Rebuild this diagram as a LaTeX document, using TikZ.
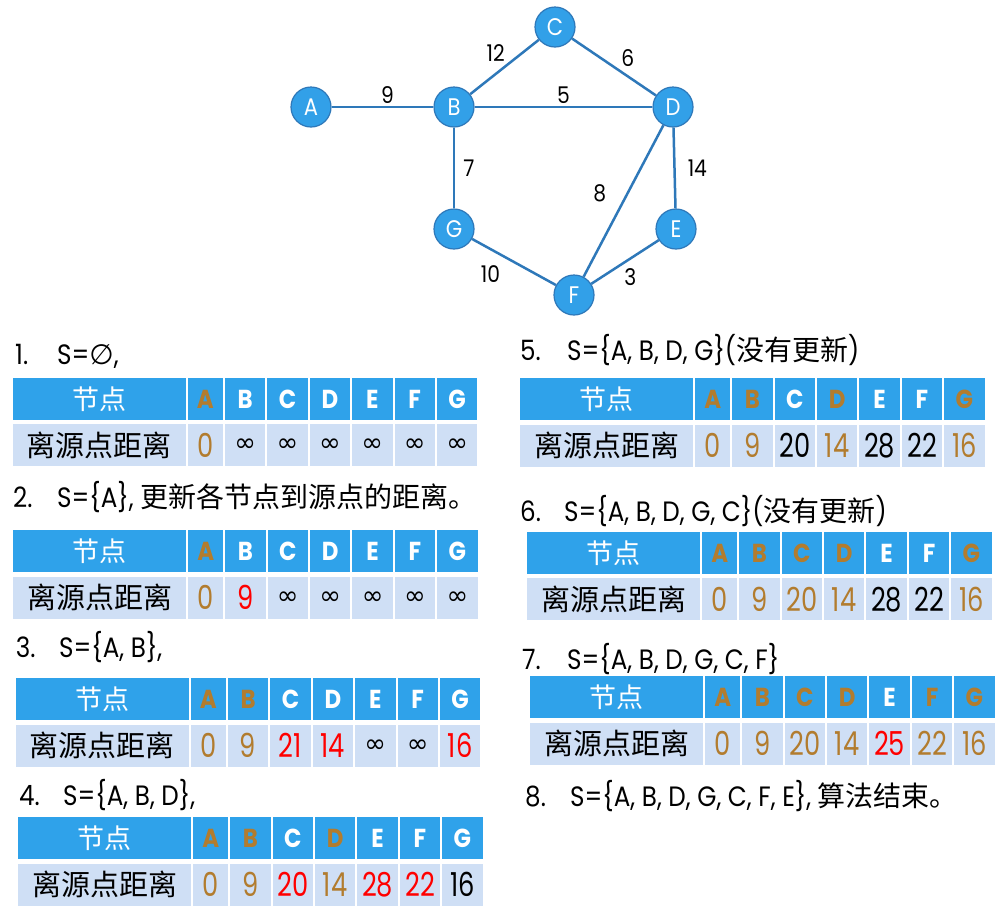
\documentclass[tikz,border=0pt]{standalone}
\usepackage{fontspec}
\setmainfont{Poppins}[FakeStretch=0.88]
\newfontfamily\dnumfont{Poppins}[FakeStretch=0.78]
\newfontfamily\dvsfont{DejaVu Sans}
\newfontfamily\cjk{Noto Sans CJK SC}
\usepackage{tikz}

\definecolor{vtxblue}{RGB}{50,160,232}
\definecolor{edgeblue}{RGB}{46,120,185}
\definecolor{hdblue}{RGB}{47,162,234}
\definecolor{bdblue}{RGB}{207,223,245}
\definecolor{brn}{RGB}{178,124,46}

\tikzstyle{vertex} = [circle, minimum size=40pt, inner sep=0, fill=vtxblue, draw=edgeblue, line width=1.2pt, text=white, font=\fontsize{24}{24}\selectfont]
\tikzstyle{edge} = [draw=edgeblue, line width=2.5pt]
\tikzstyle{wlabel} = [font=\fontsize{23}{23}\selectfont, inner sep=2pt]
\tikzstyle{headcell} = [rectangle, fill=hdblue, inner sep=0, minimum height=42pt, anchor=north west, font=\bfseries\fontsize{26}{26}\selectfont]
\tikzstyle{bodycell} = [rectangle, fill=bdblue, inner sep=0, minimum height=42pt, anchor=north west, font=\dnumfont\fontsize{33}{33}\selectfont]
\tikzstyle{rowtitle} = [inner sep=0, anchor=base west, font=\fontsize{28}{30}\selectfont]

\newcommand{\dinf}{{\dvsfont\fontsize{26}{26}\selectfont ∞}}
\newcommand{\zh}[1]{{\cjk\fontsize{28}{30}\selectfont #1}}

% one distance table: name, top left corner, columns letter/colour/value/colour
\newcommand{\disttable}[3]{%
  \begin{scope}[shift={#2}]
    \node (#1h0) [headcell, minimum width=173pt, text=white, font=\cjk\fontsize{27}{27}\selectfont] at (0,0) {节点};
    \node (#1b0) [bodycell, minimum width=173pt, font=\cjk\fontsize{29}{29}\selectfont] at (0,46.5) {离源点距离};
    \foreach \lab/\hc/\val/\vc [count=\i] in {#3} {
      \ifnum\i=1 \def\cx{175}\def\cw{35}\else\pgfmathsetmacro\cx{212+42.4*(\i-2)}\def\cw{40.4}\fi
      \node (#1h\i) [headcell, minimum width=\cw pt, text=\hc] at (\cx,0) {\lab};
      \node (#1b\i) [bodycell, minimum width=\cw pt, text=\vc] at (\cx,46.5) {\val};
    }
  \end{scope}}

\begin{document}
\begin{tikzpicture}[x=1pt, y=-1pt]
        \fill [white] (0,0) rectangle (1005,922);
        \useasboundingbox (0,0) rectangle (1005,922);

        % graph
        \node (A) [vertex] at (311,107) {A};
        \node (B) [vertex] at (454,107) {B};
        \node (C) [vertex] at (555,27) {C};
        \node (D) [vertex] at (673,107) {D};
        \node (G) [vertex] at (454,229) {G};
        \node (E) [vertex] at (676,229) {E};
        \node (F) [vertex] at (574,295) {F};

        \draw [edge] (A) -- node[wlabel, pos=0.55, above] {9} (B);
        \draw [edge] (B) -- node[wlabel, pos=0.55, above left] {12} (C);
        \draw [edge] (C) -- node[wlabel, pos=0.55, above right] {6} (D);
        \draw [edge] (B) -- node[wlabel, pos=0.5, above] {5} (D);
        \draw [edge] (B) -- node[wlabel, pos=0.5, right=6pt] {7} (G);
        \draw [edge] (D) -- node[wlabel, pos=0.45, left=18pt] {8} (F);
        \draw [edge] (D) -- node[wlabel, pos=0.5, right=10pt] {14} (E);
        \draw [edge] (G) -- node[wlabel, pos=0.42, below left=4pt] {10} (F);
        \draw [edge] (F) -- node[wlabel, pos=0.58, below=7pt] {3} (E);

        % left column
        \node (n1) [rowtitle] at (15,364) {1.};
        \node (s1) [rowtitle] at (57,364) {S={\dvsfont ∅},};
        \disttable{t1}{(12.7,377.7)}{A/brn/0/brn, B/white/\dinf/black, C/white/\dinf/black, D/white/\dinf/black, E/white/\dinf/black, F/white/\dinf/black, G/white/\dinf/black}

        \node (n2) [rowtitle] at (13,507) {2.};
        \node (s2) [rowtitle] at (57,507) {S=\{A\}, \zh{更新各节点到源点的距离。}};
        \disttable{t2}{(13,530)}{A/brn/0/brn, B/white/9/red, C/white/\dinf/black, D/white/\dinf/black, E/white/\dinf/black, F/white/\dinf/black, G/white/\dinf/black}

        \node (n3) [rowtitle] at (15.7,657) {3.};
        \node (s3) [rowtitle] at (59,657) {S=\{A, B\},};
        \disttable{t3}{(15.7,678)}{A/brn/0/brn, B/brn/9/brn, C/white/21/red, D/white/14/red, E/white/\dinf/black, F/white/\dinf/black, G/white/16/red}

        \node (n4) [rowtitle] at (19,805) {4.};
        \node (s4) [rowtitle] at (63,805) {S=\{A, B, D\},};
        \disttable{t4}{(18,817)}{A/brn/0/brn, B/brn/9/brn, C/white/20/red, D/brn/14/brn, E/white/28/red, F/white/22/red, G/white/16/black}

        % right column
        \node (n5) [rowtitle] at (520,360) {5.};
        \node (s5) [rowtitle] at (567,360) {S=\{A, B, D, G\}(\zh{没有更新})};
        \disttable{t5}{(520,378)}{A/brn/0/brn, B/brn/9/brn, C/white/20/black, D/brn/14/brn, E/white/28/black, F/white/22/black, G/brn/16/brn}

        \node (n6) [rowtitle] at (520,521) {6.};
        \node (s6) [rowtitle] at (564,521) {S=\{A, B, D, G, C\}(\zh{没有更新})};
        \disttable{t6}{(527,531.7)}{A/brn/0/brn, B/brn/9/brn, C/brn/20/brn, D/brn/14/brn, E/white/28/black, F/white/22/black, G/brn/16/brn}

        \node (n7) [rowtitle] at (522,669) {7.};
        \node (s7) [rowtitle] at (567,669) {S=\{A, B, D, G, C, F\}};
        \disttable{t7}{(530,676)}{A/brn/0/brn, B/brn/9/brn, C/brn/20/brn, D/brn/14/brn, E/white/25/red, F/brn/22/brn, G/brn/16/brn}

        \node (n8) [rowtitle] at (525,806) {8.};
        \node (s8) [rowtitle] at (570,806) {S=\{A, B, D, G, C, F, E\}, \zh{算法结束。}};
\end{tikzpicture}
\end{document}
